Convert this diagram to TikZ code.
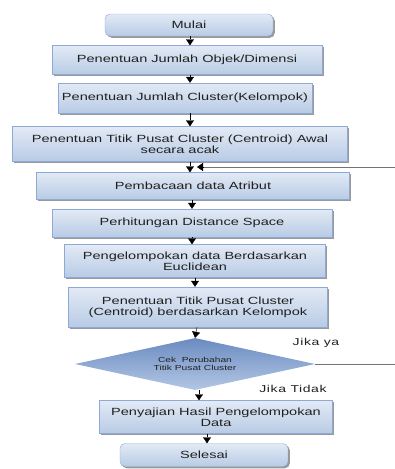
\documentclass[tikz,border=0pt]{standalone}
\usepackage{fontspec}
\setmainfont{Liberation Sans}[FakeStretch=1.4]
\usetikzlibrary{arrows.meta,shapes.geometric,shadows}

\definecolor{boxtop}{HTML}{E2EAF5}
\definecolor{boxbot}{HTML}{B8CBE5}
\definecolor{boxline}{HTML}{8EA9D6}
\definecolor{dectop}{HTML}{6A8BC0}
\definecolor{decbot}{HTML}{B3C7E5}
\definecolor{txt}{HTML}{202020}

\begin{document}
\begin{tikzpicture}[
    x=1pt, y=-1pt,
    % box styles
    procbox/.style={draw=boxline, top color=boxtop, bottom color=boxbot, inner sep=0pt,
        align=center, font=\fontsize{10.4}{11}\selectfont, text=txt,
        drop shadow={shadow xshift=1.8pt, shadow yshift=-1.8pt, fill=black!40, opacity=1}},
    termbox/.style={procbox, rounded corners=5pt},
    decbox/.style={diamond, aspect=4.6, inner sep=0pt, top color=dectop, bottom color=decbot,
        align=center, font=\fontsize{7.3}{8}\selectfont, text=txt},
    arrow/.style={-{Triangle[width=8pt,length=6pt]}, black},
    loopline/.style={draw=black!55, line width=0.9pt},
    cond/.style={font=\fontsize{10}{11}\selectfont\addfontfeature{LetterSpace=6}, text=txt}
]
\useasboundingbox (0,0) rectangle (394,469);

% 1. Start / end
\node[termbox, minimum width=168pt, minimum height=22pt] (mulai) at (189,25) {Mulai};
\node[termbox, minimum width=168pt, minimum height=23pt] (selesai) at (204,455) {Selesai};

% 2. Process steps
\node[procbox, minimum width=270pt, minimum height=29pt] (objek) at (187,60) {Penentuan Jumlah Objek/Dimensi};
\node[procbox, minimum width=254pt, minimum height=30pt] (jumlah) at (185,98) {Penentuan Jumlah Cluster(Kelompok)};
\node[procbox, minimum width=335pt, minimum height=35pt] (awal) at (180,144) {Penentuan Titik Pusat Cluster (Centroid) Awal\\secara acak};
\node[procbox, minimum width=313pt, minimum height=27pt] (baca) at (193,186) {Pembacaan data Atribut};
\node[procbox, minimum width=280pt, minimum height=28pt] (jarak) at (192,223) {Perhitungan Distance Space};
\node[procbox, minimum width=261pt, minimum height=33pt] (kelompok) at (195,261) {Pengelompokan data Berdasarkan\\Euclidean};
\node[procbox, minimum width=259pt, minimum height=40pt] (pusat) at (198,307) {Penentuan Titik Pusat Cluster\\(Centroid) berdasarkan Kelompok};

% 3. Decision
\node[decbox, minimum width=240pt, minimum height=52pt] (cek) at (195,364) {Cek\ \ Perubahan\\Titik Pusat Cluster};
\node[procbox, minimum width=233pt, minimum height=33pt] (hasil) at (216,417) {Penyajian Hasil Pengelompokan\\Data};

% 4. Condition labels
\node[cond] (ya) at (316,343) {Jika ya};
\node[cond] (tidak) at (293,389) {Jika Tidak};

% 5. Straight arrows
\draw[arrow] ([xshift=1pt]mulai.south) -- ([xshift=1pt]mulai.south |- objek.north);
\draw[arrow] ([xshift=3pt]objek.south) -- ([xshift=3pt]objek.south |- jumlah.north);
\draw[arrow] ([xshift=5pt]jumlah.south) -- ([xshift=5pt]jumlah.south |- awal.north);
\draw[arrow] ([xshift=10pt]awal.south) -- ([xshift=10pt]awal.south |- baca.north);
\draw[arrow] ([xshift=-1pt]baca.south) -- ([xshift=-1pt]baca.south |- jarak.north);
\draw[arrow] (jarak.south) -- (jarak.south |- kelompok.north);
\draw[arrow] (kelompok.south) -- (kelompok.south |- pusat.north);
\draw[arrow] ([xshift=-1pt]pusat.south) -- (cek.north);
\draw[arrow] ([xshift=4pt]cek.south) -- ([xshift=4pt]cek.south |- hasil.north);
\draw[arrow] ([xshift=-9pt]hasil.south) -- ([xshift=-9pt]hasil.south |- selesai.north);

% 6. Loop back (corner lies just off the page)
\coordinate (sudut) at (397,167);
\coordinate (balik) at (197,167);
\draw[loopline] (cek.east) -| (sudut) -- ([xshift=5pt]balik);
\draw[arrow] ([xshift=6pt]balik) -- (balik);

\end{tikzpicture}
\end{document}
